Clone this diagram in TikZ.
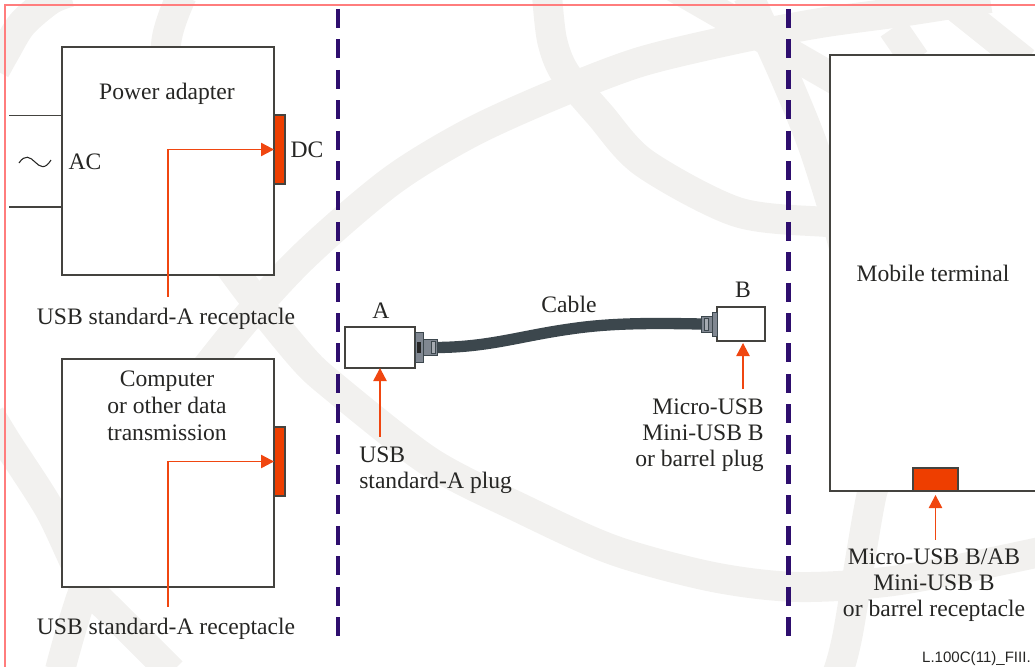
\documentclass[tikz,border=0pt]{standalone}
\usepackage{fontspec}
\setmainfont{Liberation Serif}
\newfontfamily\tagfont{Liberation Sans}
\usetikzlibrary{positioning,arrows.meta}
\definecolor{globegray}{RGB}{242,241,239}
\definecolor{framepink}{RGB}{255,125,125}
\definecolor{linegray}{RGB}{68,67,63}
\definecolor{inkgray}{RGB}{38,38,36}
\definecolor{portred}{RGB}{238,62,0}
\definecolor{tipred}{RGB}{240,70,16}
\definecolor{dashpurple}{RGB}{46,14,110}
\definecolor{cablegray}{RGB}{60,71,77}
\definecolor{gripgray}{RGB}{128,135,145}
\begin{document}
\begin{tikzpicture}[x=0.75pt,y=-0.75pt,
  globe/.style={draw=globegray,line width=22.5pt},
  box/.style={draw=linegray,line width=1pt,fill=white,inner sep=0pt,outer sep=0pt,minimum width=159pt,minimum height=171pt},
  port/.style={draw=linegray,line width=1pt,fill=portred,inner sep=0pt,outer sep=0pt},
  plugbox/.style={draw=linegray,line width=0.9pt,fill=white,inner sep=0pt,outer sep=0pt},
  grip/.style={draw=cablegray,line width=0.7pt,fill=gripgray,inner sep=0pt,outer sep=0pt},
  txt/.style={font=\fontsize{17.7}{19.4}\selectfont,text=inkgray,inner sep=0pt,anchor=base,align=center},
  arrow/.style={-{Triangle[length=9.75pt,width=10pt]},line width=1pt,tipred},
  sep/.style={dashpurple,line width=3.4pt,dash pattern=on 14.25pt off 8.55pt},
  wire/.style={linegray,line width=0.9pt}
]
  \useasboundingbox (0,0) rectangle (1035,667);
  \clip (0,0) rectangle (1035,667);

  % globe behind everything
  \draw[globe] plot[smooth] coordinates {(-5,70) (5,52) (22,24) (50,0) (70,-8)};
  \draw[globe] plot[smooth] coordinates {(60,670) (85,587) (140,460) (227,342) (300,260) (390,182) (470,133) (556,94) (640,62) (736,39) (820,23) (900,12) (990,-2)};
  \draw[globe] plot[smooth] coordinates {(182,-5) (166,45) (175,130) (205,225) (240,280) (300,355) (334,387) (430,462) (520,508) (613,550) (713,577) (799,587) (900,580) (1040,552)};
  \draw[globe] plot[smooth] coordinates {(547,-5) (552,40) (565,73) (600,115) (644,163) (737,212) (827,222) (900,225) (1040,240)};
  \draw[globe] plot[smooth] coordinates {(748,-5) (785,77) (812,143) (835,215) (850,270)};
  \draw[globe] (650,-27) -- (850,88);
  \draw[globe] (893,28) -- (915,60);
  \draw[globe] (950,2) -- (1025,62);
  \draw[globe] plot[smooth] coordinates {(-10,415) (7,443) (50,510) (85,582) (117,617) (172,672)};
  \draw[globe] plot[smooth] coordinates {(885,480) (872,493) (848,633) (838,672)};

  % frame
  \draw[framepink,line width=1.8pt] (5,670) -- (5,5) -- (1040,5);

  % dashed separators
  \coordinate (sepAtop) at (338,9);
  \coordinate (sepAend) at (338,636);
  \coordinate (sepBtop) at (788.5,9);
  \coordinate (sepBend) at (788.5,636);
  \draw[sep] (sepAtop) -- (sepAend);
  \draw[sep] (sepBtop) -- (sepBend);

  % blocks
  \node[box] (power) at (168,161) {};
  \node[box,below=63pt of power] (computer) {};
  \node[box,minimum width=157.5pt,minimum height=327pt] (terminal) at (935,273) {};
  \node[port,minimum width=8.25pt,minimum height=51.75pt] (dcport) at (279.5,149.5) {};
  \node[port,minimum width=8.25pt,minimum height=51.75pt] (dataport) at (279.5,461.5) {};
  \node[port,minimum width=33.75pt,minimum height=17.25pt] (termport) at (935.5,479.5) {};

  % cable and plugs
  \node[plugbox,minimum width=52.5pt,minimum height=30.75pt] (plugA) at (380,347.5) {};
  \node[grip,minimum width=6pt,minimum height=22.5pt,right=0pt of plugA] (collarA) {};
  \node[grip,minimum width=10.5pt,minimum height=12pt,right=0pt of collarA] (gripA) {};
  \node[plugbox,minimum width=36pt,minimum height=25.5pt] (plugB) at (741,324) {};
  \node[grip,minimum width=3.75pt,minimum height=18pt,left=0pt of plugB] (collarB) {};
  \node[grip,minimum width=8.25pt,minimum height=12pt,left=0pt of collarB] (gripB) {};
  \node[fill=black!85,inner sep=0pt,minimum width=3pt,minimum height=8.25pt] (slotA) at (collarA) {};
  \node[grip,fill=gripgray!70,minimum width=3.5pt,minimum height=8.5pt] (ribA) at ([xshift=2.5pt]gripA.center) {};
  \node[grip,fill=gripgray!70,minimum width=2.5pt,minimum height=9pt] (ribB) at (gripB) {};
  \draw[cablegray,line width=8.5pt] (gripA.east) .. controls (490,347) and (520,336) .. (570,329) .. controls (610,323) and (650,323) .. (gripB.west);

  % texts
  \node[txt] (powertxt) at (167,99) {Power adapter};
  \node[txt] (actxt) at (85,169) {AC};
  \node[txt] (dctxt) at (307,157.7) {DC};
  \node[txt] (recpower) at (166,324) {USB standard-A receptacle};
  \node[txt,font=\fontsize{17.7}{20}\selectfont] (computertxt) at (167,440) {Computer\\or other data\\transmission};
  \node[txt] (recdata) at (166,634) {USB standard-A receptacle};
  \node[txt] (atxt) at (381,318) {A};
  \node[txt] (btxt) at (743,297.7) {B};
  \node[txt] (cabletxt) at (569,312.7) {Cable};
  \node[txt,align=left,anchor=base west] (usbplug) at (359,488) {USB\\standard-A plug};
  \node[txt,align=right,anchor=base east] (microplug) at (764,466) {Micro-USB\\Mini-USB B\\or barrel plug};
  \node[txt] (terminaltxt) at (933,281.7) {Mobile terminal};
  \node[txt] (microrec) at (934,616.7) {Micro-USB B/AB\\Mini-USB B\\or barrel receptacle};
  \node[font=\tagfont\fontsize{11.3}{13}\selectfont,text=inkgray,inner sep=0pt,anchor=base east] (figtag) at (1031,662) {L.100C(11)\_FIII.};

  % mains feed
  \coordinate (acup) at (9,115.5);
  \coordinate (acdown) at (9,207);
  \draw[wire] (acup) -- (acup -| power.west);
  \draw[wire] (acdown) -- (acdown -| power.west);
  \draw[inkgray,line width=0.8pt] (19,163) .. controls (25,154) and (30,157) .. (35,162) .. controls (40,167) and (45,170) .. (51,160);

  % arrows
  \draw[arrow,shorten <=8pt] ([xshift=1.5pt]recpower.north) |- (dcport.west);
  \draw[arrow,shorten <=8pt] ([xshift=1.5pt]recdata.north) |- (dataport.west);
  \draw[arrow,shorten <=7pt] (plugA.south |- usbplug.north) -- (plugA.south);
  \draw[arrow,shorten <=7pt] (btxt.south |- microplug.north) -- ([yshift=-1.5pt]btxt.south |- plugB.south);
  \draw[arrow,shorten <=7pt] (termport.south |- microrec.north) -- ([yshift=-3pt]termport.south);
\end{tikzpicture}
\end{document}
